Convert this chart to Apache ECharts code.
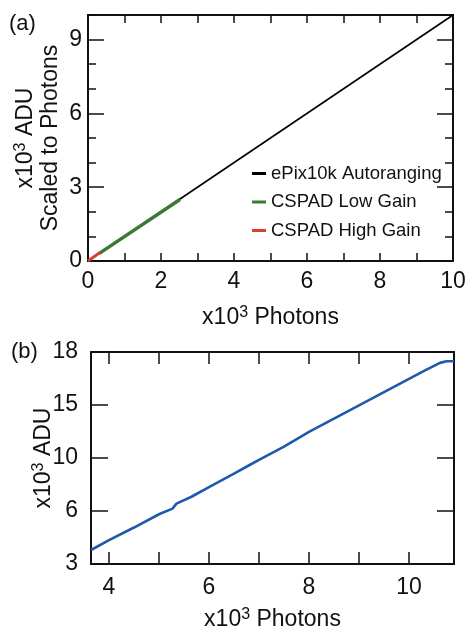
<!DOCTYPE html>
<html>
<head>
<meta charset="utf-8">
<script src="https://cdn.jsdelivr.net/npm/echarts@6/dist/echarts.min.js"></script>
<style>
html,body{margin:0;padding:0;background:#fff;}
#chart{width:465px;height:630px;}
</style>
</head>
<body>
<div id="chart"></div>
<script>
// ---- Panel (a) data ----
const epixX = [0, 10];
const epixY = [0, 10];
const lowGainX = [0.3, 2.52];
const lowGainY = [0.3, 2.5];
const highGainX = [0, 0.33];
const highGainY = [0, 0.35];
const seriesNamesA = ['ePix10k Autoranging', 'CSPAD Low Gain', 'CSPAD High Gain'];
const xTicksA = [0, 2, 4, 6, 8, 10];
const yLabelTicksA = [0, 3, 6, 9];

// ---- Panel (b) data ----
const photonsB = [3.64, 4.0, 4.5, 5.0, 5.27, 5.35, 5.64, 6.0, 6.5, 6.83, 7.0, 7.5, 8.0, 8.5, 9.0, 9.5, 10.0, 10.35, 10.62, 10.75, 10.9];
const aduB = [3.99, 4.69, 5.58, 6.52, 6.92, 7.27, 7.74, 8.44, 9.39, 10.04, 10.37, 11.31, 12.35, 13.28, 14.22, 15.16, 16.10, 16.75, 17.23, 17.35, 17.35];
const xTickValsB = [4, 5, 6, 7, 8, 9, 10];
const xLabelValsB = [4, 6, 8, 10];
const yTickValsB = [3, 6.75, 10.5, 14.25, 18];
const yTickLabelsB = ['3', '6', '10', '15', '18'];

const zip = (xs, ys) => xs.map((x, i) => [x, ys[i]]);
const FONT = 'Liberation Sans, Arial, Helvetica, sans-serif';
const black = '#111';

function boxAxis(extra) {
  return Object.assign({
    type: 'value',
    nameMoveOverlap: false,
    axisLine: { show: true, onZero: false, lineStyle: { color: black, width: 2 } },
    splitLine: { show: false },
    axisLabel: { show: false },
    axisTick: { show: true, inside: true, length: 8, lineStyle: { color: black, width: 1.5 } }
  }, extra);
}
const tickStyle = { color: black, width: 1.5 };
const labelStyle = { color: black, fontSize: 23, fontFamily: FONT };
const richName = {
  color: black, fontFamily: FONT, fontSize: 23, lineHeight: 25,
  rich: {
    n: { fontSize: 23, lineHeight: 25, color: black, fontFamily: FONT },
    s: { fontSize: 16, verticalAlign: 'top', color: black, fontFamily: FONT }
  }
};

const chart = echarts.init(document.getElementById('chart'), null, { renderer: 'canvas' });
chart.setOption({
  animation: false,
  backgroundColor: '#fff',
  textStyle: { fontFamily: FONT },
  grid: [
    { left: 88, top: 15, width: 365, height: 246, outerBoundsMode: 'none', containLabel: false },
    { left: 91, top: 352, width: 363, height: 212, outerBoundsMode: 'none', containLabel: false }
  ],
  xAxis: [
    boxAxis({ gridIndex: 0, position: 'bottom', min: 0, max: 10, interval: 1,
      axisTick: { show: true, inside: true, length: 8, lineStyle: tickStyle },
      axisLabel: { show: true, margin: 9, customValues: xTicksA, ...labelStyle },
      name: '{n|x10}{s|3}{n| Photons}', nameLocation: 'middle', nameGap: 44,
      nameTextStyle: richName }),
    boxAxis({ gridIndex: 0, position: 'top', min: 0, max: 10, interval: 1 }),
    boxAxis({ gridIndex: 1, position: 'bottom', min: 3.64, max: 10.9,
      axisTick: { show: true, inside: true, length: 12, customValues: xTickValsB, lineStyle: tickStyle },
      axisLabel: { show: true, margin: 12, customValues: xLabelValsB, ...labelStyle },
      name: '{n|x10}{s|3}{n| Photons}', nameLocation: 'middle', nameGap: 43,
      nameTextStyle: richName }),
    boxAxis({ gridIndex: 1, position: 'top', min: 3.64, max: 10.9,
      axisTick: { show: true, inside: true, length: 12, customValues: xTickValsB, lineStyle: tickStyle } })
  ],
  yAxis: [
    boxAxis({ gridIndex: 0, position: 'left', min: 0, max: 10, interval: 1,
      axisLabel: { show: true, margin: 6, customValues: yLabelTicksA, ...labelStyle },
      name: '{n|x10}{s|3}{n| ADU}\n{n|Scaled to Photons}', nameLocation: 'middle', nameGap: 25, nameRotate: 90,
      nameTextStyle: richName }),
    boxAxis({ gridIndex: 0, position: 'left', min: 0, max: 10,
      axisTick: { show: true, inside: true, length: 16, customValues: yLabelTicksA, lineStyle: tickStyle } }),
    boxAxis({ gridIndex: 0, position: 'right', min: 0, max: 10, interval: 1 }),
    boxAxis({ gridIndex: 0, position: 'right', min: 0, max: 10,
      axisTick: { show: true, inside: true, length: 16, customValues: yLabelTicksA, lineStyle: tickStyle } }),
    boxAxis({ gridIndex: 1, position: 'left', min: 3, max: 18,
      axisTick: { show: true, inside: true, length: 17, customValues: yTickValsB, lineStyle: tickStyle },
      axisLabel: { show: true, margin: 13, customValues: yTickValsB, ...labelStyle,
        formatter: v => { let k = 0; yTickValsB.forEach((t, i) => { if (Math.abs(t - v) < 1e-6) k = i; }); return yTickLabelsB[k]; } },
      name: '{n|x10}{s|3}{n| ADU}', nameLocation: 'middle', nameGap: 35, nameRotate: 90,
      nameTextStyle: richName }),
    boxAxis({ gridIndex: 1, position: 'right', min: 3, max: 18,
      axisTick: { show: true, inside: true, length: 17, customValues: yTickValsB, lineStyle: tickStyle } })
  ],
  legend: {
    orient: 'vertical', left: 252, top: 164, padding: 0, itemGap: 9.5,
    itemWidth: 14, itemHeight: 3, icon: 'rect',
    data: seriesNamesA,
    textStyle: { color: black, fontSize: 18.5, fontFamily: FONT }
  },
  graphic: [
    { type: 'text', left: 9, top: 13, style: { text: '(a)', fontSize: 22, fill: black, fontFamily: FONT } },
    { type: 'text', left: 11, top: 341, style: { text: '(b)', fontSize: 22, fill: black, fontFamily: FONT } }
  ],
  series: [
    { name: seriesNamesA[0], type: 'line', xAxisIndex: 0, yAxisIndex: 0, data: zip(epixX, epixY),
      symbol: 'none', color: '#000', lineStyle: { color: '#000', width: 1.6 } },
    { name: seriesNamesA[1], type: 'line', xAxisIndex: 0, yAxisIndex: 0, data: zip(lowGainX, lowGainY),
      symbol: 'none', color: '#3b7a34', lineStyle: { color: '#3b7a34', width: 3.5 } },
    { name: seriesNamesA[2], type: 'line', xAxisIndex: 0, yAxisIndex: 0, data: zip(highGainX, highGainY),
      symbol: 'none', color: '#d6402c', lineStyle: { color: '#d6402c', width: 3 } },
    { name: 'ePix10k', type: 'line', xAxisIndex: 2, yAxisIndex: 4, data: zip(photonsB, aduB),
      symbol: 'none', color: '#1f5aa8', lineStyle: { color: '#1f5aa8', width: 2.6 } }
  ]
});
</script>
</body>
</html>
